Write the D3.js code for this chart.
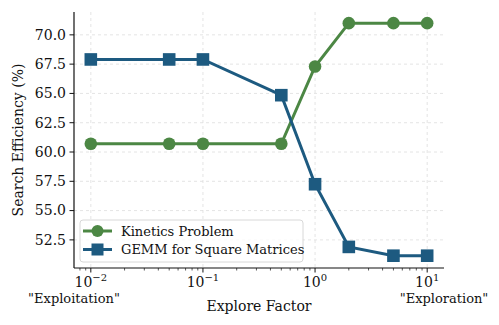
<!DOCTYPE html>
<html lang="en">
<head>
<meta charset="UTF-8">
<script src="https://d3js.org/d3.v7.min.js"></script>
<style>
  html, body { margin: 0; padding: 0; background: #fff; }
  svg { display: block; }
  .grid line { stroke: #ddd; stroke-dasharray: 3,3; stroke-width: 0.8; }
</style>
</head>
<body>
<div id="chart"></div>
<script>
// explore factor values (x) and the two series
var factors = [0.01, 0.05, 0.1, 0.5, 1, 2, 5, 10];
var kinetics = [60.7, 60.7, 60.7, 60.7, 67.3, 71.0, 71.0, 71.0];
var gemm = [67.9, 67.9, 67.9, 64.85, 57.25, 51.9, 51.15, 51.15];
var seriesNames = ["Kinetics Problem", "GEMM for Square Matrices"];
var seriesColors = ["#4c8744", "#1d5a80"];
var yTicks = [52.5, 55.0, 57.5, 60.0, 62.5, 65.0, 67.5, 70.0];
var xTicks = [0.01, 0.1, 1, 10];

var FONT = "'DejaVu Serif', serif";
var W = 499, H = 325;
var margin = {left: 74, right: 55, top: 12, bottom: 57};
var iw = W - margin.left - margin.right,
    ih = H - margin.top - margin.bottom;

var svg = d3.select("#chart").append("svg")
    .attr("width", W).attr("height", H);
var g = svg.append("g")
    .attr("transform", "translate(" + margin.left + "," + margin.top + ")");

var x = d3.scaleLog()
    .domain([Math.pow(10, -2.15), Math.pow(10, 1.15)])
    .range([0, iw]);
var y = d3.scaleLinear()
    .domain([50.1, 71.95])
    .range([ih, 0]);

function txt(sel, size) {
    return sel.style("font-family", FONT).style("font-size", size + "px").style("fill", "#111");
}

// grid
var grid = g.append("g").attr("class", "grid");
grid.selectAll(".gx").data(xTicks).enter().append("line")
    .attr("x1", d => x(d)).attr("x2", d => x(d))
    .attr("y1", 0).attr("y2", ih);
grid.selectAll(".gy").data(yTicks).enter().append("line")
    .attr("x1", 0).attr("x2", iw)
    .attr("y1", d => y(d)).attr("y2", d => y(d));

// minor ticks on the log axis
var minor = [];
[-3, -2, -1, 0, 1].forEach(function (e) {
    for (var k = 2; k < 10; k++) {
        var v = k * Math.pow(10, e);
        if (v >= x.domain()[0] && v <= x.domain()[1]) minor.push(v);
    }
});

var xAxis = g.append("g")
    .attr("transform", "translate(0," + ih + ")");
xAxis.append("line")
    .attr("x1", 0).attr("x2", iw)
    .attr("stroke", "#111").attr("stroke-width", 1.2);
xAxis.selectAll(".minor").data(minor).enter().append("line")
    .attr("x1", d => x(d)).attr("x2", d => x(d))
    .attr("y1", 0).attr("y2", 2.5)
    .attr("stroke", "#111").attr("stroke-width", 0.7);
var xt = xAxis.selectAll(".major").data(xTicks).enter().append("g")
    .attr("transform", d => "translate(" + x(d) + ",0)");
xt.append("line").attr("y2", 4.5).attr("stroke", "#111").attr("stroke-width", 1);
var lbl = txt(xt.append("text"), 14)
    .attr("y", 19)
    .attr("text-anchor", "middle");
lbl.append("tspan").text("10");
lbl.append("tspan")
    .attr("dy", -6)
    .style("font-size", "10px")
    .text(d => (Math.log10(d) < 0 ? "\u2212" : "") + Math.abs(Math.round(Math.log10(d))));

var yAxis = g.append("g");
yAxis.append("line")
    .attr("y1", 0).attr("y2", ih)
    .attr("stroke", "#111").attr("stroke-width", 1.2);
var yt = yAxis.selectAll(".yt").data(yTicks).enter().append("g")
    .attr("transform", d => "translate(0," + y(d) + ")");
yt.append("line").attr("x2", -4.5).attr("stroke", "#111").attr("stroke-width", 1);
txt(yt.append("text"), 14)
    .attr("x", -8)
    .attr("dy", "0.35em")
    .attr("text-anchor", "end")
    .text(d => d.toFixed(1));

// axis labels
txt(g.append("text"), 14)
    .attr("x", iw / 2).attr("y", ih + 43)
    .attr("text-anchor", "middle")
    .text("Explore Factor");
txt(g.append("text"), 13)
    .attr("x", 0).attr("y", ih + 35)
    .attr("text-anchor", "middle")
    .text("\"Exploitation\"");
txt(g.append("text"), 13)
    .attr("x", iw).attr("y", ih + 35)
    .attr("text-anchor", "middle")
    .text("\"Exploration\"");
txt(svg.append("text"), 14)
    .attr("transform", "translate(23," + (margin.top + ih / 2) + ") rotate(-90)")
    .attr("text-anchor", "middle")
    .text("Search Efficiency (%)");

// series
var allSeries = [kinetics, gemm];
var line = d3.line()
    .x((d, i) => x(factors[i]))
    .y(d => y(d));

allSeries.forEach(function (vals, s) {
    g.append("path")
        .datum(vals)
        .attr("d", line)
        .attr("fill", "none")
        .attr("stroke", seriesColors[s])
        .attr("stroke-width", 3);
    if (s === 0) {
        g.selectAll(".m0").data(vals).enter().append("circle")
            .attr("cx", (d, i) => x(factors[i]))
            .attr("cy", d => y(d))
            .attr("r", 6.3)
            .attr("fill", seriesColors[s]);
    } else {
        g.selectAll(".m1").data(vals).enter().append("rect")
            .attr("x", (d, i) => x(factors[i]) - 6.3)
            .attr("y", d => y(d) - 6.3)
            .attr("width", 12.6).attr("height", 12.6)
            .attr("fill", seriesColors[s]);
    }
});

// legend
var leg = g.append("g").attr("transform", "translate(6," + (ih - 48) + ")");
leg.append("rect")
    .attr("width", 223).attr("height", 42)
    .attr("rx", 3)
    .attr("fill", "rgba(255,255,255,0.8)")
    .attr("stroke", "#d8d8d8");
seriesNames.forEach(function (name, s) {
    var row = leg.append("g").attr("transform", "translate(0," + (11 + s * 18.5) + ")");
    row.append("line")
        .attr("x1", 3).attr("x2", 32)
        .attr("stroke", seriesColors[s]).attr("stroke-width", 3);
    if (s === 0) {
        row.append("circle").attr("cx", 17.5).attr("r", 6).attr("fill", seriesColors[s]);
    } else {
        row.append("rect").attr("x", 11.5).attr("y", -6).attr("width", 12).attr("height", 12)
            .attr("fill", seriesColors[s]);
    }
    txt(row.append("text"), 13)
        .attr("x", 41).attr("dy", "0.35em")
        .text(name);
});
</script>
</body>
</html>
